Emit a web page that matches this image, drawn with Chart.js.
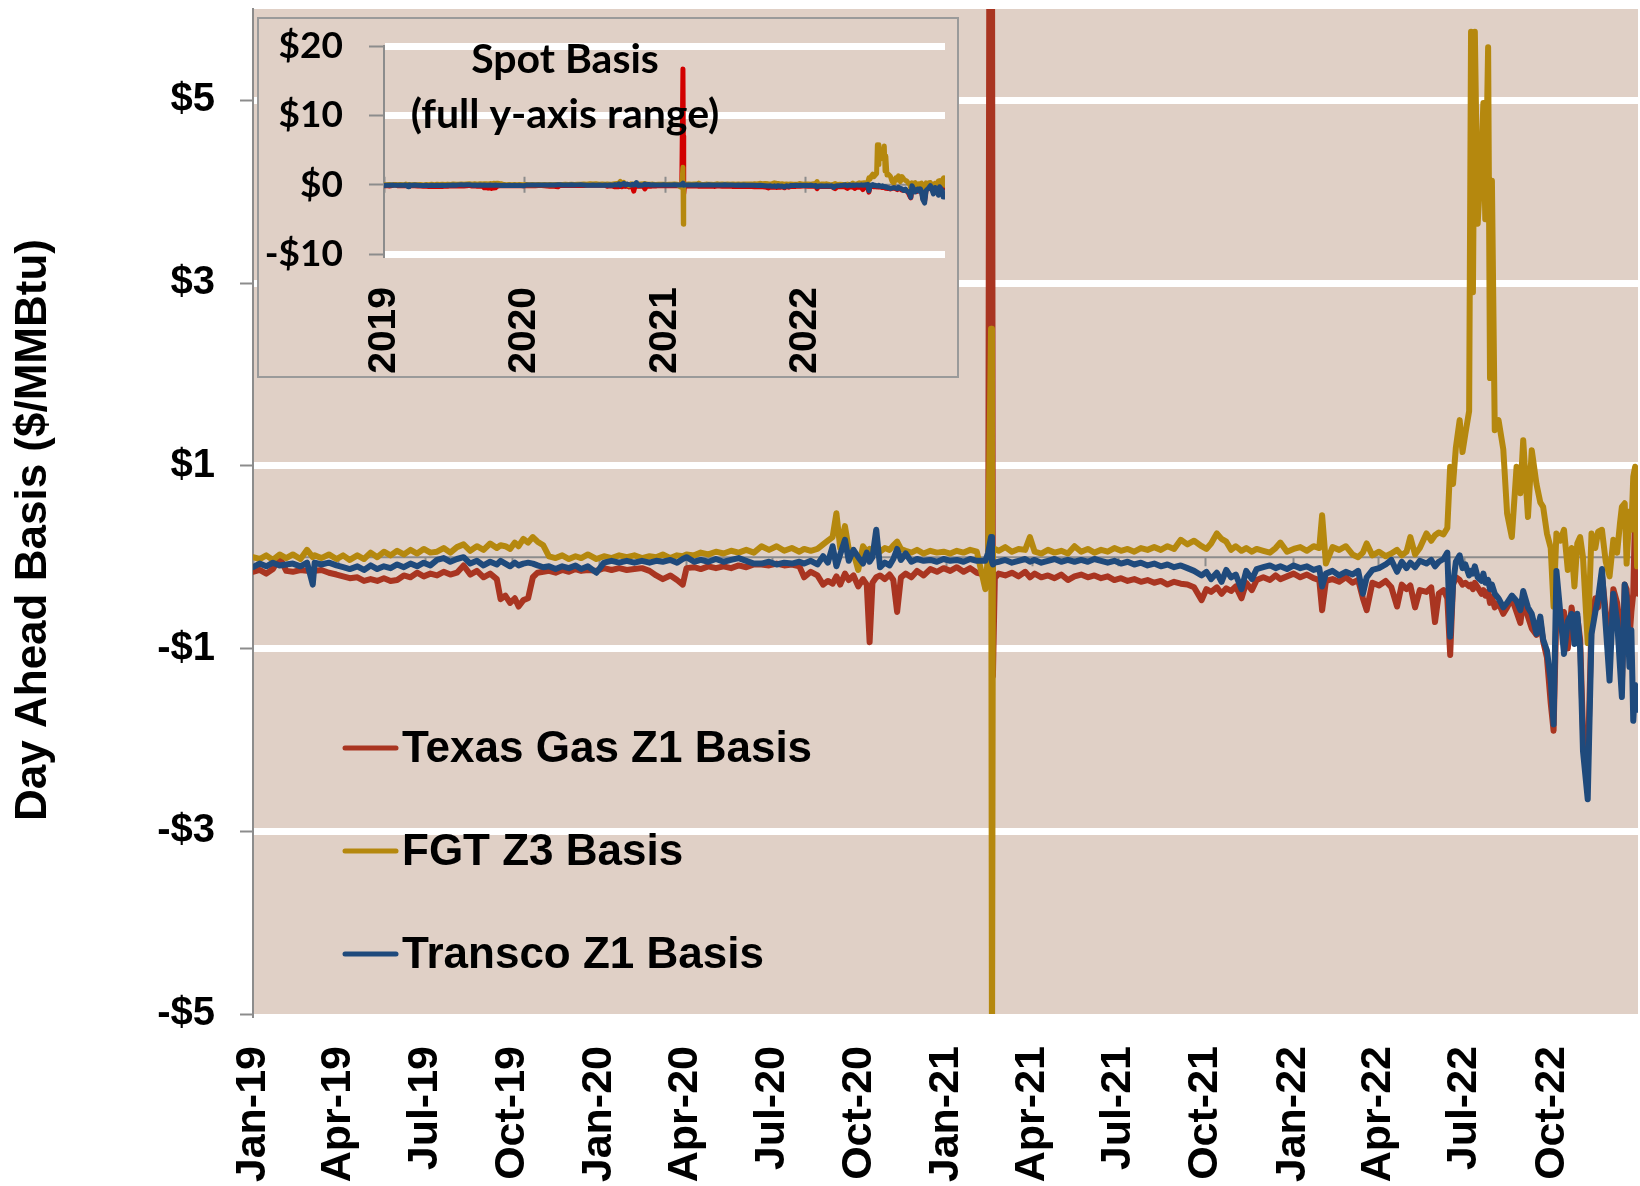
<!DOCTYPE html>
<html>
<head>
<meta charset="utf-8">
<title>Day Ahead Basis</title>
<script src="https://cdn.jsdelivr.net/npm/chart.js"></script>
<style>
  html, body { margin: 0; padding: 0; background: #fff; }
  #wrap { position: relative; width: 1640px; height: 1186px; }
  #main { position: absolute; left: 0; top: 0; }
  #insetBox { position: absolute; left: 257px; top: 17px; width: 698px; height: 357px;
              border: 2px solid #9a9a9a; background: #E0D0C6; }
</style>
</head>
<body>
<div id="wrap">
  <canvas id="main" width="1640" height="1186"></canvas>
  <div id="insetBox"><canvas id="inset" width="698" height="357"></canvas></div>
</div>
<script>
// days since 1 Jan 2019
const days = [
  0,7,14,21,28,35,42,50,57,63, 65,72,80,88,95,102,110,117,124,131,
  138,145,152,159,166,173,180,187,194,201, 208,215,222,229,236,243,250,257,261,266,
  271,276,280,285,290,295,300,306,312,319, 326,333,340,346,353,362,370,378,386,394,
  402,410,418,425,432,440,447,453,457,465, 472,480,488,496,504,512,520,528,
  536,544,552,560,568,576,581,588,595,601, 606,611,615,619,624,628,633,638,643,647,
  650,653,657,661,666,671,675,679,683,688, 694,700,707,714,721,728,735,742,749,756,
  763,772,775,778,779,780,782,786,793,800, 807,814,819,824,831,838,845,852,859,866,
  873,880,887,894,901,908,915,922,929,936, 943,950,957,964,971,978,985,992,1000,1005,
  1010,1016,1021,1026,1031,1036,1042,1047,1053,1058,
  1065,1072,1078,1083,1090,1097,1104,1111,1118,1124, 1127,1131,1138,1145,1152,1159,1165,1170,1174,1180,
  1187,1194,1200,1206,1211,1216,1220,1225,1230,1237, 1242,1246,1250,1255,1259,1262,1265,1268,1272,1275,
  1278,1282,1284,1286,1288,1291,1295,1297,1299,1302, 1304,1306,1309,1313,1318,1322,1327,1332,1336,1339,
  1344,1348,1353,1357,1360,1364,1368,1371,1374,1378, 1382,1386,1390,1393,1396,1399,1402,1407,1411,1415,
  1418,1422,1426,1430,1434,1438,1441,1443,1446,1448, 1451,1453,1455,1457,1459,1460
];

const texasGas = [
  -0.16,-0.14,-0.18,-0.13,0.00,-0.15,-0.16,-0.14,-0.15,-0.16, -0.15,-0.14,-0.17,-0.19,-0.21,-0.23,-0.22,-0.26,-0.24,-0.26,
  -0.23,-0.26,-0.25,-0.20,-0.22,-0.17,-0.21,-0.18,-0.20,-0.16, -0.19,-0.17,-0.09,-0.19,-0.15,-0.22,-0.18,-0.24,-0.46,-0.42,
  -0.50,-0.45,-0.54,-0.47,-0.45,-0.22,-0.17,-0.16,-0.15,-0.17, -0.14,-0.16,-0.13,-0.15,-0.14,-0.15,-0.12,-0.14,-0.12,-0.14,
  -0.13,-0.12,-0.15,-0.20,-0.24,-0.20,-0.25,-0.30,-0.12,-0.11, -0.13,-0.10,-0.12,-0.10,-0.12,-0.09,-0.11,-0.08,
  -0.08,-0.09,-0.07,-0.09,-0.08,-0.10,-0.22,-0.16,-0.20,-0.30, -0.26,-0.29,-0.21,-0.30,-0.18,-0.25,-0.20,-0.32,-0.24,-0.30,
  -0.93,-0.28,-0.22,-0.20,-0.24,-0.19,-0.25,-0.60,-0.22,-0.18, -0.22,-0.15,-0.20,-0.13,-0.16,-0.12,-0.15,-0.11,-0.16,-0.12,
  -0.17,-0.19,-0.25,16.7,7.0,-1.3,-0.23,-0.18,-0.20,-0.17, -0.21,-0.16,-0.22,-0.18,-0.22,-0.20,-0.23,-0.19,-0.25,-0.21,
  -0.19,-0.22,-0.20,-0.23,-0.21,-0.25,-0.23,-0.26,-0.24,-0.27, -0.25,-0.28,-0.26,-0.30,-0.27,-0.29,-0.30,-0.33,-0.47,-0.35,
  -0.38,-0.33,-0.40,-0.34,-0.37,-0.32,-0.45,-0.28,-0.36,-0.25,
  -0.22,-0.25,-0.20,-0.24,-0.21,-0.18,-0.22,-0.19,-0.23,-0.25, -0.58,-0.26,-0.24,-0.27,-0.22,-0.28,-0.25,-0.45,-0.58,-0.28,
  -0.31,-0.26,-0.33,-0.54,-0.30,-0.35,-0.31,-0.55,-0.36,-0.38, -0.33,-0.71,-0.40,-0.36,-0.45,-1.07,-0.30,-0.22,-0.25,-0.30,
  -0.28,-0.32,-0.30,-0.35,-0.28,-0.33,-0.40,-0.36,-0.42,-0.38, -0.50,-0.44,-0.55,-0.50,-0.62,-0.55,-0.45,-0.60,-0.72,-0.48,
  -0.65,-0.78,-0.85,-0.70,-0.92,-1.10,-1.60,-1.90,-0.60,-0.75, -0.60,-1.00,-0.55,-0.80,-0.65,-0.90,-1.90,-2.30,-0.70,-0.45,
  -0.55,-0.20,-0.60,-1.00,-0.35,-0.50,-0.75,-1.40,-0.30,-0.35, -0.90,-0.60,-0.40,0.50,-0.30,-0.40
];

const fgt = [
  0.00,-0.02,0.02,-0.03,0.03,-0.01,0.03,-0.02,0.08,0.00, 0.02,-0.01,0.03,-0.02,0.02,-0.03,0.02,-0.02,0.05,0.00,
  0.06,0.02,0.07,0.03,0.08,0.04,0.09,0.05,0.06,0.10, 0.05,0.11,0.14,0.07,0.12,0.08,0.15,0.10,0.13,0.12,
  0.09,0.16,0.12,0.20,0.16,0.22,0.17,0.13,0.01,-0.01, 0.02,-0.02,0.01,-0.01,0.03,-0.02,0.01,-0.01,0.02,0.00,
  0.02,-0.01,0.01,0.00,0.03,-0.01,0.02,0.01,0.03,0.02, 0.05,0.03,0.06,0.04,0.07,0.05,0.08,0.05,
  0.12,0.08,0.12,0.07,0.10,0.06,0.09,0.07,0.09,0.14, 0.18,0.22,0.48,0.10,0.34,0.09,0.05,-0.14,0.12,0.06,
  0.09,0.05,0.12,0.06,0.10,0.08,0.13,0.17,0.09,0.07, 0.05,0.08,0.04,0.07,0.05,0.06,0.04,0.07,0.05,0.08,
  0.06,-0.35,0.05,2.5,-5.7,0.10,0.09,0.07,0.11,0.06, 0.09,0.08,0.22,0.06,0.04,0.08,0.05,0.07,0.04,0.12,
  0.06,0.09,0.05,0.08,0.06,0.10,0.07,0.09,0.06,0.10, 0.08,0.11,0.08,0.12,0.09,0.19,0.14,0.18,0.12,0.09,
  0.15,0.26,0.20,0.17,0.08,0.12,0.07,0.10,0.06,0.09,
  0.07,0.05,0.10,0.16,0.06,0.09,0.11,0.07,0.12,0.10, 0.46,-0.07,0.11,0.08,0.12,0.03,0.00,0.05,0.15,0.02,
  0.06,0.01,0.04,0.08,0.02,0.06,0.22,0.03,0.10,0.26, 0.18,0.24,0.27,0.25,0.32,0.99,0.80,1.20,1.50,1.15,
  1.35,1.60,5.75,2.90,5.75,3.65,4.40,4.97,3.70,5.58, 1.96,4.12,1.39,1.50,1.18,0.48,0.22,0.99,0.70,1.28,
  0.44,1.17,0.80,0.60,0.55,0.26,0.10,-0.54,0.26,0.18, 0.30,-0.14,0.10,-0.32,0.15,0.22,0.00,-0.94,0.26,0.10,
  0.28,0.30,-0.05,-0.21,0.19,0.05,0.37,0.55,0.59,-0.07, 0.50,0.30,0.88,0.99,-0.10,0.00
];

const transco = [
  -0.11,-0.07,-0.10,-0.06,-0.09,-0.08,-0.07,-0.10,-0.06,-0.30, -0.06,-0.08,-0.06,-0.09,-0.11,-0.13,-0.10,-0.14,-0.09,-0.13,
  -0.10,-0.12,-0.08,-0.11,-0.07,-0.10,-0.06,-0.09,-0.03,-0.01, -0.05,-0.02,0.00,-0.07,-0.04,-0.09,-0.05,-0.08,-0.04,-0.07,
  -0.10,-0.06,-0.09,-0.07,-0.06,-0.07,-0.09,-0.11,-0.10,-0.13, -0.10,-0.12,-0.09,-0.13,-0.10,-0.17,-0.06,-0.04,-0.06,-0.04,
  -0.06,-0.04,-0.06,-0.04,-0.05,-0.03,-0.06,-0.02,0.00,-0.05, -0.03,-0.05,-0.02,-0.05,-0.03,-0.01,-0.04,-0.07,
  -0.07,-0.05,-0.08,-0.06,-0.07,-0.05,-0.07,-0.04,-0.08,0.01, -0.06,0.12,-0.10,0.03,0.19,-0.04,0.08,0.00,-0.07,0.05,
  -0.05,0.00,0.30,-0.11,-0.06,-0.09,-0.02,0.09,-0.03,0.04, -0.05,-0.02,-0.04,-0.03,-0.05,-0.02,-0.04,-0.03,-0.05,-0.02,
  -0.04,-0.04,0.05,0.22,-0.05,-0.08,-0.06,-0.05,-0.03,-0.06, -0.04,-0.02,-0.05,-0.03,-0.06,-0.04,-0.02,-0.05,-0.03,-0.05,
  -0.03,-0.05,-0.02,-0.04,-0.06,-0.04,-0.07,-0.05,-0.08,-0.06, -0.09,-0.07,-0.10,-0.08,-0.11,-0.09,-0.12,-0.15,-0.20,-0.16,
  -0.24,-0.17,-0.27,-0.14,-0.22,-0.19,-0.35,-0.15,-0.24,-0.13,
  -0.11,-0.09,-0.12,-0.10,-0.13,-0.09,-0.12,-0.10,-0.14,-0.12, -0.32,-0.18,-0.15,-0.20,-0.16,-0.19,-0.15,-0.40,-0.22,-0.14,
  -0.12,-0.08,-0.03,-0.16,-0.05,-0.12,-0.06,-0.11,-0.04,-0.07, -0.03,-0.10,-0.05,-0.02,0.05,-0.87,-0.30,-0.05,0.02,-0.12,
  -0.08,-0.20,-0.15,-0.18,-0.10,-0.22,-0.26,-0.18,-0.28,-0.25, -0.35,-0.30,-0.40,-0.45,-0.55,-0.50,-0.42,-0.48,-0.58,-0.37,
  -0.55,-0.62,-0.84,-0.65,-0.90,-1.02,-1.35,-1.83,-0.15,-0.60, -1.06,-0.70,-0.62,-0.95,-0.62,-1.00,-2.12,-2.65,-0.84,-0.60,
  -0.45,-0.13,-0.75,-1.35,-0.40,-0.70,-1.20,-1.53,-0.30,-0.44, -1.20,-0.80,-1.79,-1.40,-1.67,-1.50
];

const seriesNames = ['Texas Gas Z1 Basis', 'FGT Z3 Basis', 'Transco Z1 Basis'];

// quarter ticks on the main chart
const quarterDays = [0, 90, 181, 273, 365, 456, 547, 639, 731, 821, 912, 1004, 1096, 1186, 1277, 1369];
const quarterLabels = ['Jan-19', 'Apr-19', 'Jul-19', 'Oct-19', 'Jan-20', 'Apr-20', 'Jul-20', 'Oct-20',
                       'Jan-21', 'Apr-21', 'Jul-21', 'Oct-21', 'Jan-22', 'Apr-22', 'Jul-22', 'Oct-22'];
const mainTicks = [-5, -3, -1, 1, 3, 5];

// inset ticks
const yearDays = [0, 365, 731, 1096];
const yearLabels = ['2019', '2020', '2021', '2022'];
const insetTicks = [-10, 0, 10, 20];

const BG = '#E0D0C6';
const AXIS = '#8c8c8c';
const ARIAL = '"Liberation Sans", Arial, sans-serif';

function pts(arr) {
  return days.map((d, i) => ({ x: d, y: arr[i] }));
}
function money(v) {
  return (v < 0 ? '-$' : '$') + Math.abs(v);
}
// keep the y axis from asking for extra room above/below the plot
function noPad(s) {
  s.paddingTop = 0;
  s.paddingBottom = 0;
}

// beige plot background
const plotBg = {
  id: 'plotBg',
  beforeDraw(chart) {
    const { ctx, chartArea: a } = chart;
    ctx.save();
    ctx.fillStyle = BG;
    ctx.fillRect(a.left, a.top, a.right - a.left, a.bottom - a.top);
    ctx.restore();
  }
};

// horizontal axis drawn at y = 0 with its tick marks
const zeroAxis = {
  id: 'zeroAxis',
  beforeDatasetsDraw(chart, args, o) {
    const { ctx, scales: { x, y } } = chart;
    const y0 = y.getPixelForValue(0);
    ctx.save();
    ctx.strokeStyle = AXIS;
    ctx.lineWidth = 2;
    ctx.beginPath();
    ctx.moveTo(x.left, y0);
    ctx.lineTo(x.right, y0);
    o.ticks.forEach(v => {
      const px = Math.round(x.getPixelForValue(v)) + 0.5;
      ctx.moveTo(px, y0 - o.above);
      ctx.lineTo(px, y0 + o.below);
    });
    ctx.stroke();
    ctx.restore();
  }
};

// legend drawn inside the plot
const legendBox = {
  id: 'legendBox',
  afterDraw(chart, args, o) {
    const ctx = chart.ctx;
    ctx.save();
    ctx.font = 'bold 44px ' + ARIAL;
    ctx.textBaseline = 'middle';
    chart.data.datasets.forEach((ds, i) => {
      const y = o.top + i * o.gap;
      ctx.strokeStyle = ds.borderColor;
      ctx.lineWidth = 5;
      ctx.lineCap = 'round';
      ctx.beginPath();
      ctx.moveTo(o.x1, y);
      ctx.lineTo(o.x2, y);
      ctx.stroke();
      ctx.fillStyle = '#000';
      ctx.fillText(ds.label, o.textX, y + 2);
    });
    ctx.restore();
  }
};

// free-standing texts (axis title, inset title)
const texts = {
  id: 'texts',
  afterDraw(chart, args, o) {
    const ctx = chart.ctx;
    o.items.forEach(t => {
      ctx.save();
      ctx.translate(t.x, t.y);
      if (t.rot) ctx.rotate(t.rot);
      ctx.font = t.font;
      ctx.fillStyle = '#000';
      ctx.textAlign = 'center';
      ctx.textBaseline = 'middle';
      ctx.fillText(t.text, 0, 0);
      ctx.restore();
    });
  }
};

// main chart
new Chart(document.getElementById('main'), {
  type: 'line',
  data: {
    datasets: [
      { label: seriesNames[0], data: pts(texasGas), borderColor: '#A93521', borderWidth: 6, order: 3 },
      { label: seriesNames[1], data: pts(fgt), borderColor: '#B5880E', borderWidth: 6, order: 2 },
      { label: seriesNames[2], data: pts(transco), borderColor: '#1F4A7C', borderWidth: 6, order: 1 }
    ]
  },
  options: {
    responsive: false,
    animation: false,
    devicePixelRatio: 1,
    layout: { padding: { top: 9, right: 2, left: 0, bottom: 0 } },
    elements: {
      point: { radius: 0 },
      line: { tension: 0, borderJoinStyle: 'round', borderCapStyle: 'round' }
    },
    scales: {
      x: {
        type: 'linear', min: 0, max: 1460,
        afterBuildTicks: s => { s.ticks = quarterDays.map(v => ({ value: v })); },
        afterFit: s => { s.height = 172; },
        grid: { display: false, drawTicks: false },
        border: { display: false },
        ticks: {
          autoSkip: false, maxRotation: 90, minRotation: 90, padding: 32, color: '#000',
          font: { family: ARIAL, weight: 'bold', size: 43 },
          callback: (v, i) => quarterLabels[i]
        }
      },
      y: {
        min: -5, max: 6,
        afterBuildTicks: s => { s.ticks = mainTicks.map(v => ({ value: v })); },
        afterFit: s => { s.width = 253; noPad(s); },
        grid: {
          color: c => (c.tick && c.tick.value === -5) ? 'rgba(0,0,0,0)' : '#ffffff',
          lineWidth: 7, tickColor: AXIS, tickWidth: 2, tickLength: 13
        },
        border: { color: AXIS, width: 2 },
        ticks: {
          padding: 25, color: '#000',
          font: { family: ARIAL, weight: 'bold', size: 40 },
          callback: v => money(v)
        }
      }
    },
    plugins: {
      legend: { display: false },
      tooltip: { enabled: false },
      zeroAxis: { ticks: quarterDays, above: 0, below: 9 },
      legendBox: { x1: 345, x2: 396, textX: 402, top: 748, gap: 103 },
      texts: { items: [
        { text: 'Day Ahead Basis ($/MMBtu)', x: 34, y: 530, rot: -Math.PI / 2, font: 'bold 44px ' + ARIAL }
      ] }
    }
  },
  plugins: [plotBg, zeroAxis, legendBox, texts]
});

// inset chart with the full y range
new Chart(document.getElementById('inset'), {
  type: 'line',
  data: {
    datasets: [
      { label: seriesNames[0], data: pts(texasGas), borderColor: '#D20000', borderWidth: 5, order: 3 },
      { label: seriesNames[1], data: pts(fgt), borderColor: '#B5880E', borderWidth: 5, order: 2 },
      { label: seriesNames[2], data: pts(transco), borderColor: '#1F4A7C', borderWidth: 5, order: 1 }
    ]
  },
  options: {
    responsive: false,
    animation: false,
    devicePixelRatio: 1,
    layout: { padding: { top: 27, right: 12, left: 0, bottom: 0 } },
    elements: {
      point: { radius: 0 },
      line: { tension: 0, borderJoinStyle: 'round', borderCapStyle: 'round' }
    },
    scales: {
      x: {
        type: 'linear', min: 0, max: 1460,
        afterBuildTicks: s => { s.ticks = yearDays.map(v => ({ value: v })); },
        afterFit: s => { s.height = 122; },
        grid: { display: false, drawTicks: false },
        border: { display: false },
        ticks: {
          autoSkip: false, maxRotation: 90, minRotation: 90, padding: 33, color: '#000',
          font: { family: ARIAL, weight: 'bold', size: 39 },
          callback: (v, i) => yearLabels[i]
        }
      },
      y: {
        min: -10, max: 20,
        afterBuildTicks: s => { s.ticks = insetTicks.map(v => ({ value: v })); },
        afterFit: s => { s.width = 125; noPad(s); },
        grid: {
          color: c => (c.tick && c.tick.value === 0) ? 'rgba(0,0,0,0)' : '#ffffff',
          lineWidth: 7, tickColor: AXIS, tickWidth: 2, tickLength: 15
        },
        border: { color: AXIS, width: 2 },
        ticks: {
          padding: 26, color: '#000',
          font: { family: 'Lato, sans-serif', weight: 'bold', size: 37 },
          callback: v => money(v)
        }
      }
    },
    plugins: {
      legend: { display: false },
      tooltip: { enabled: false },
      zeroAxis: { ticks: yearDays, above: 8, below: 8 },
      texts: { items: [
        { text: 'Spot Basis', x: 306, y: 41, font: 'bold 41px Lato, sans-serif' },
        { text: '(full y-axis range)', x: 306, y: 96, font: 'bold 41px Lato, sans-serif' }
      ] }
    }
  },
  plugins: [plotBg, zeroAxis, texts]
});
</script>
</body>
</html>
